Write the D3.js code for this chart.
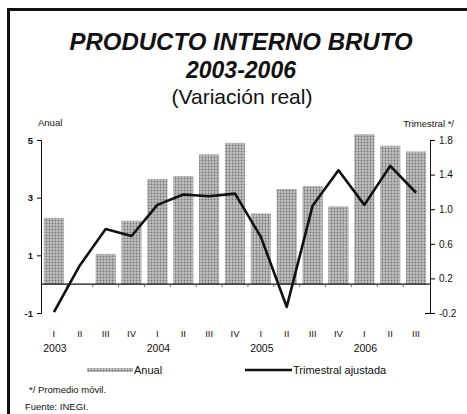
<!DOCTYPE html>
<html>
<head>
<meta charset="utf-8">
<script src="https://cdn.jsdelivr.net/npm/d3@7"></script>
<style>
  body { margin: 0; background: #fff; }
  svg text { font-family: "Liberation Sans", Arial, sans-serif; fill: #111; }
</style>
</head>
<body>
<div id="chart"></div>
<script>
// quarters and years
var quarters = ["I","II","III","IV","I","II","III","IV","I","II","III","IV","I","II","III"];
var years = ["2003","2004","2005","2006"];
// annual variation (left axis)
var anual = [2.3, 0.0, 1.05, 2.2, 3.65, 3.75, 4.5, 4.9, 2.45, 3.3, 3.4, 2.7, 5.2, 4.8, 4.6];
// quarterly adjusted, moving average (right axis)
var trimestral = [-0.19, 0.35, 0.77, 0.69, 1.05, 1.17, 1.15, 1.18, 0.68, -0.13, 1.04, 1.45, 1.05, 1.5, 1.19];
var leftTicks = [5, 3, 1, -1];
var rightTicks = [1.8, 1.4, 1.0, 0.6, 0.2, -0.2];

var W = 467, H = 414;
var svg = d3.select("#chart").append("svg")
    .attr("width", W)
    .attr("height", H);

// dotted fill for bars
var defs = svg.append("defs");
var pat = defs.append("pattern")
    .attr("id", "dots")
    .attr("patternUnits", "userSpaceOnUse")
    .attr("width", 3)
    .attr("height", 3);
pat.append("rect").attr("width", 3).attr("height", 3).attr("fill", "#c0c0c0");
pat.append("circle").attr("cx", 1.5).attr("cy", 1.5).attr("r", 0.9).attr("fill", "#757575");

// frame
svg.append("path")
    .attr("d", "M8.5," + H + " V9.5 H" + W)
    .attr("fill", "none")
    .attr("stroke", "#111")
    .attr("stroke-width", 3);

// titles
svg.append("text")
    .attr("x", 241).attr("y", 50)
    .attr("text-anchor", "middle")
    .style("font-size", "24px").style("font-weight", "bold").style("font-style", "italic")
    .text("PRODUCTO INTERNO BRUTO");
svg.append("text")
    .attr("x", 241).attr("y", 78)
    .attr("text-anchor", "middle")
    .style("font-size", "23px").style("font-weight", "bold").style("font-style", "italic")
    .text("2003-2006");
svg.append("text")
    .attr("x", 242).attr("y", 104)
    .attr("text-anchor", "middle")
    .style("font-size", "21px")
    .text("(Variación real)");

var x = d3.scaleBand()
    .domain(d3.range(quarters.length))
    .range([41, 429])
    .paddingInner(0.22)
    .paddingOuter(0.11);

var yL = d3.scaleLinear().domain([-1, 5]).range([313, 140]);
var yR = d3.scaleLinear().domain([-0.2, 1.8]).range([313, 140]);

// bars
svg.selectAll("rect.bar")
    .data(anual)
  .enter().append("rect")
    .attr("class", "bar")
    .attr("x", function(d, i) { return x(i); })
    .attr("width", x.bandwidth())
    .attr("y", function(d) { return yL(Math.max(d, 0)); })
    .attr("height", function(d) { return Math.abs(yL(d) - yL(0)); })
    .attr("fill", "url(#dots)");

// zero line with small ticks at category boundaries
svg.append("line")
    .attr("x1", 41).attr("x2", 430)
    .attr("y1", yL(0)).attr("y2", yL(0))
    .attr("stroke", "#111").attr("stroke-width", 1.2);
svg.selectAll("line.qt")
    .data(d3.range(1, quarters.length))
  .enter().append("line")
    .attr("class", "qt")
    .attr("x1", function(i) { return x(i) - x.step() * 0.11; })
    .attr("x2", function(i) { return x(i) - x.step() * 0.11; })
    .attr("y1", yL(0)).attr("y2", yL(0) + 3)
    .attr("stroke", "#555").attr("stroke-width", 0.8);

// left axis (hyphen minus like the original)
var axL = svg.append("g")
    .attr("transform", "translate(41,0)")
    .call(d3.axisLeft(yL).tickValues(leftTicks).tickSize(4).tickPadding(4)
      .tickFormat(function(d) { return String(d); }));
axL.select(".domain").attr("stroke", "#111").attr("d", "M-3,140.5H0.5V313.5H-3");
axL.selectAll("text").style("font-size", "9.5px").style("font-weight", "bold");

// right axis
var axR = svg.append("g")
    .attr("transform", "translate(430,0)")
    .call(d3.axisRight(yR).tickValues(rightTicks).tickSize(5).tickPadding(4)
      .tickFormat(function(d) { return d.toFixed(1); }));
axR.select(".domain").attr("stroke", "#111").attr("d", "M0.5,140V313.5");
axR.selectAll(".tick line").filter(function(d) { return d === -0.2; }).attr("x1", -5);
axR.selectAll("text").style("font-size", "10px");

svg.append("text").attr("x", 38).attr("y", 126)
    .style("font-size", "9.5px").text("Anual");
svg.append("text").attr("x", 454).attr("y", 127)
    .attr("text-anchor", "end")
    .style("font-size", "9.5px").text("Trimestral */");

// quarterly line
var line = d3.line()
    .x(function(d, i) { return x(i) + x.bandwidth() / 2; })
    .y(function(d) { return yR(d); });
svg.append("path")
    .datum(trimestral)
    .attr("d", line)
    .attr("fill", "none")
    .attr("stroke", "#111")
    .attr("stroke-width", 2.6)
    .attr("stroke-linejoin", "round");

// category labels
svg.selectAll("text.q")
    .data(quarters)
  .enter().append("text")
    .attr("class", "q")
    .attr("x", function(d, i) { return x(i) + x.bandwidth() / 2; })
    .attr("y", 337)
    .attr("text-anchor", "middle")
    .style("font-size", "9.5px")
    .text(function(d) { return d; });
svg.selectAll("text.yr")
    .data(years)
  .enter().append("text")
    .attr("class", "yr")
    .attr("x", function(d, i) { return x(i * 4) + x.bandwidth() / 2 + 1; })
    .attr("y", 352)
    .attr("text-anchor", "middle")
    .style("font-size", "10.5px")
    .text(function(d) { return d; });

// legend
svg.append("rect")
    .attr("x", 87).attr("y", 368).attr("width", 46).attr("height", 4)
    .attr("fill", "url(#dots)");
svg.append("text").attr("x", 134).attr("y", 374)
    .style("font-size", "11px").text("Anual");
svg.append("line")
    .attr("x1", 245).attr("x2", 292).attr("y1", 370).attr("y2", 370)
    .attr("stroke", "#111").attr("stroke-width", 2.6);
svg.append("text").attr("x", 293).attr("y", 374)
    .style("font-size", "11px").text("Trimestral ajustada");

// notes
svg.append("text").attr("x", 29).attr("y", 393)
    .style("font-size", "9.5px").text("*/ Promedio móvil.");
svg.append("text").attr("x", 25).attr("y", 410)
    .style("font-size", "9.5px").text("Fuente: INEGI.");
</script>
</body>
</html>
